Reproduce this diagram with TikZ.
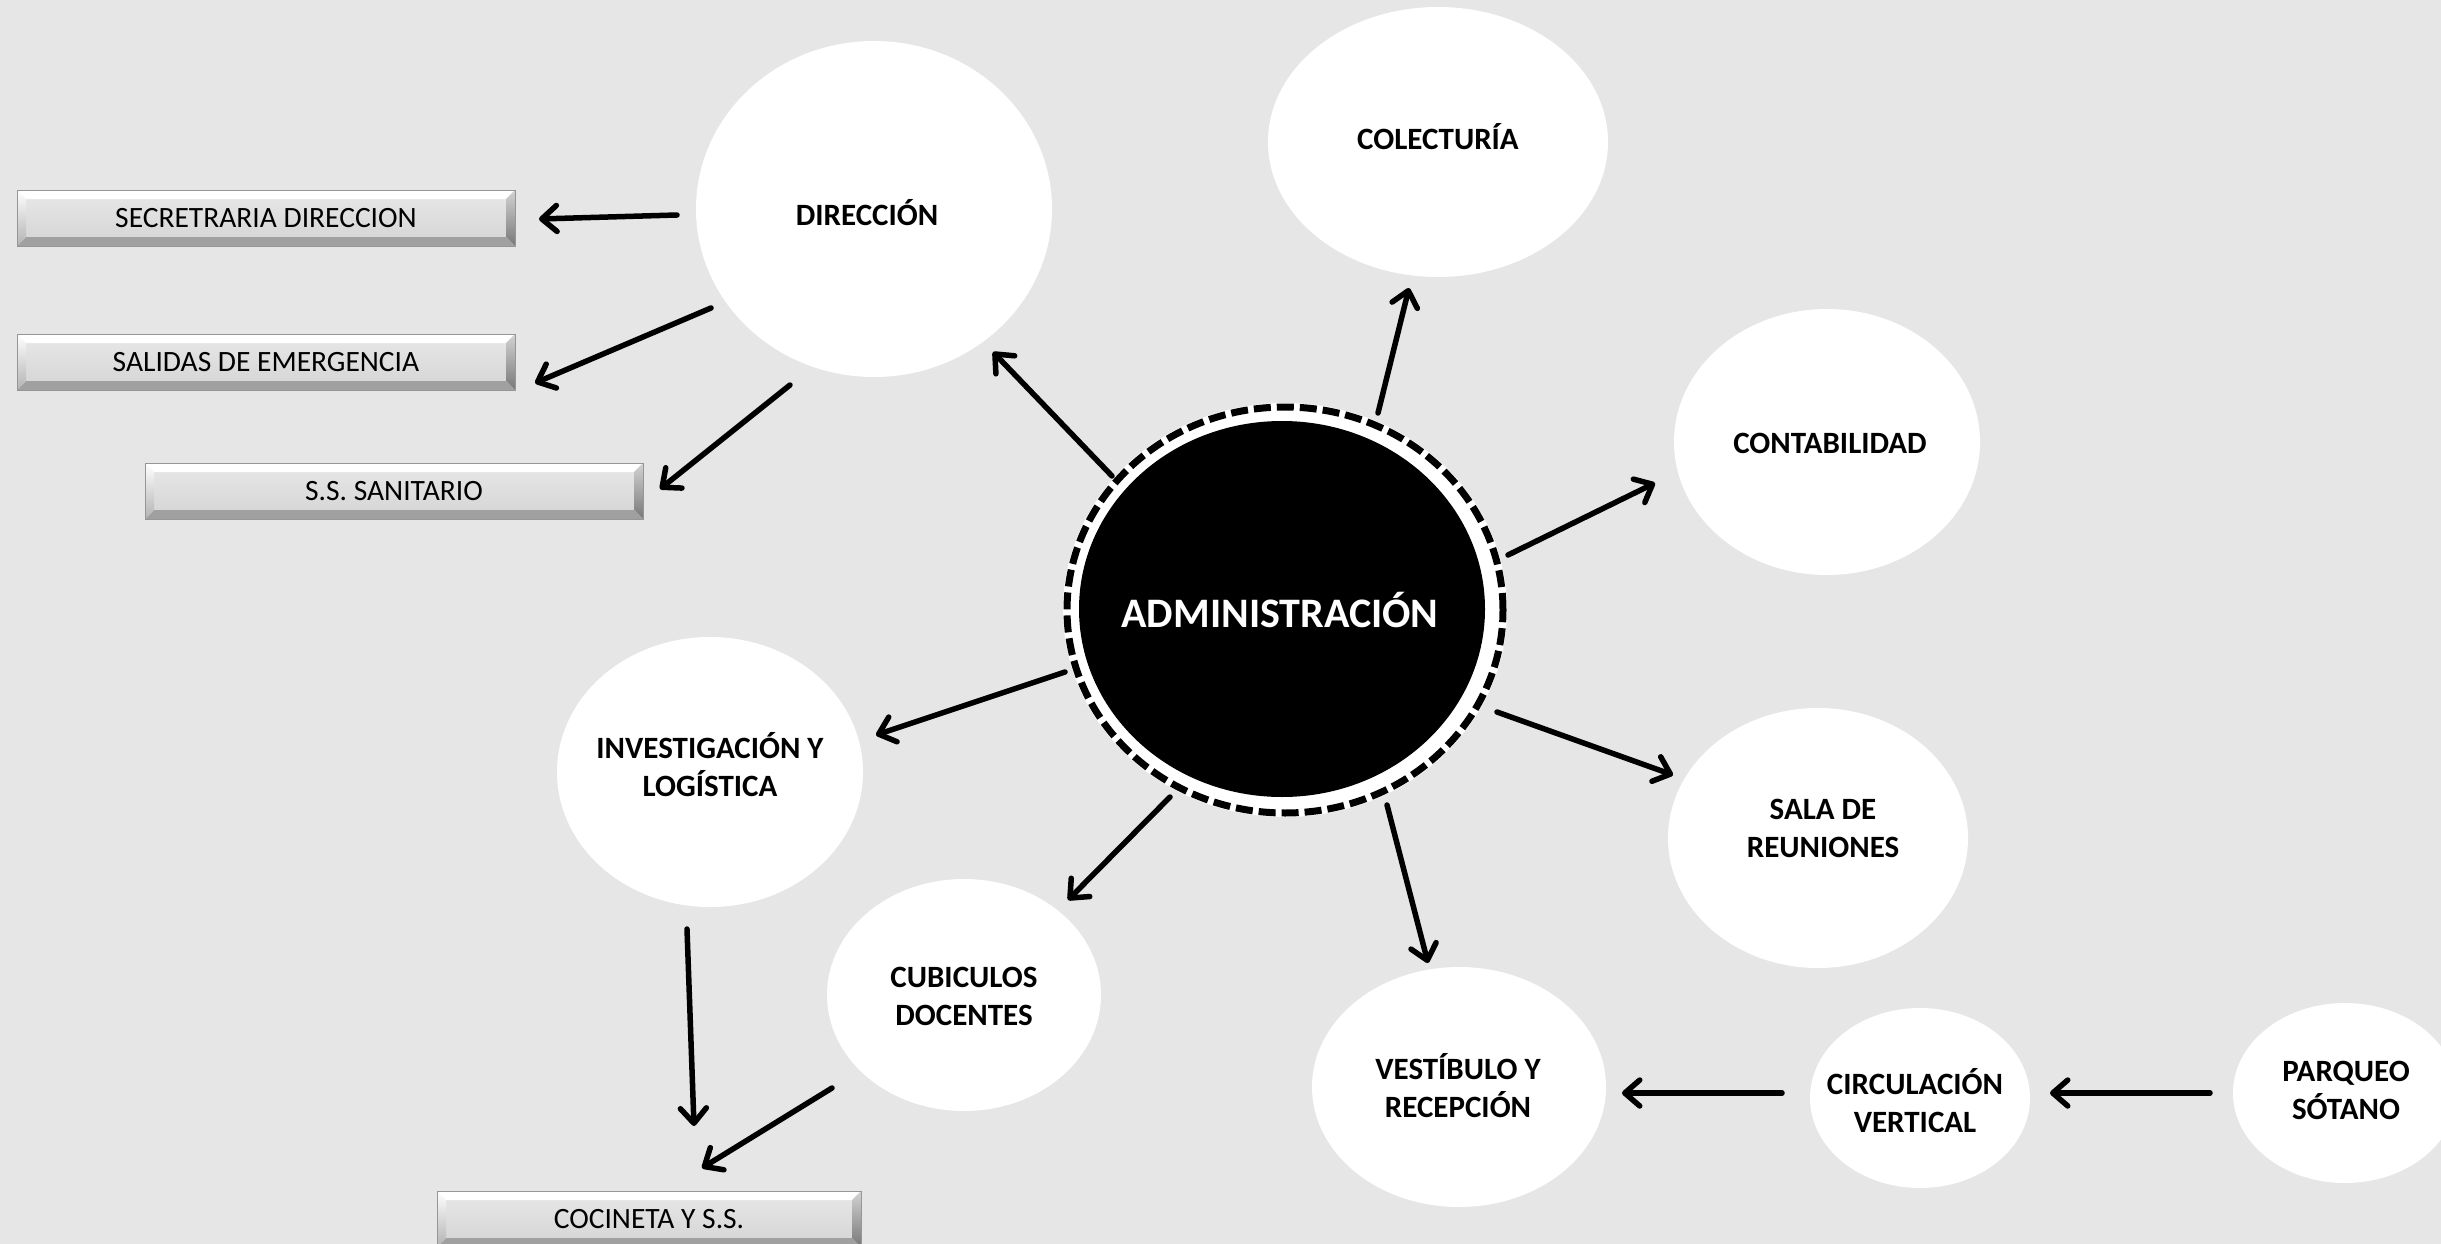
\documentclass[tikz,border=0pt]{standalone}
\usepackage{fontspec}
\setmainfont{Carlito}
\usetikzlibrary{arrows.meta,shapes.geometric,calc}
\definecolor{bg}{RGB}{230,230,230}
\definecolor{boxedge}{RGB}{150,150,150}
\definecolor{boxtop}{RGB}{232,232,232}
\definecolor{boxbot}{RGB}{212,212,212}
\definecolor{bvright}{RGB}{120,120,120}
\definecolor{bvbottom}{RGB}{160,160,160}
\begin{document}
\begin{tikzpicture}[x=1pt,y=-1pt,
  bub/.style={ellipse, fill=white, inner sep=0pt},
  btxt/.style={font=\bfseries\fontsize{31}{38}\selectfont, align=center, inner sep=0pt},
  conn/.style={line width=5.5pt, line cap=round, -{Straight Barb[length=15pt,width=26pt,round]}},
  bevelbox/.style={rectangle, inner sep=0pt, minimum height=56pt, top color=boxtop, bottom color=boxbot,
    draw=boxedge, line width=1pt, font=\fontsize{29.5}{33}\selectfont,
    path picture={
      \path (path picture bounding box.north west) coordinate (bNW)
            (path picture bounding box.north east) coordinate (bNE)
            (path picture bounding box.south east) coordinate (bSE)
            (path picture bounding box.south west) coordinate (bSW);
      \fill[white] (bNW) -- (bNE) -- ([shift={(-9pt,-9pt)}]bNE) -- ([shift={(9pt,-9pt)}]bNW) -- cycle;
      \shade[top color=gray!35, bottom color=bvright] (bNE) -- (bSE) -- ([shift={(-9pt,9pt)}]bSE) -- ([shift={(-9pt,-9pt)}]bNE) -- cycle;
      \fill[bvbottom] (bSE) -- (bSW) -- ([shift={(9pt,9pt)}]bSW) -- ([shift={(-9pt,9pt)}]bSE) -- cycle;
      \shade[top color=white, bottom color=gray!60] (bSW) -- (bNW) -- ([shift={(9pt,-9pt)}]bNW) -- ([shift={(9pt,9pt)}]bSW) -- cycle;
    }}
]
\useasboundingbox (0,0) rectangle (2441,1244);
\fill[bg] (0,0) rectangle (2441,1244);

% central node
\fill[white] (1285,610) ellipse [x radius=222pt, y radius=207pt];
\draw[line width=7pt, dash pattern=on 17pt off 6pt] (1285,610) ellipse [x radius=218pt, y radius=203pt];
\node[ellipse, fill=black, minimum width=406pt, minimum height=376pt, inner sep=0pt] (adminE) at (1282,609) {};
\node[font=\bfseries\fontsize{42}{50}\selectfont, text=white, inner sep=0pt] (admin) at (1280,610) {ADMINISTRACIÓN};

% bubbles
\node[bub, minimum width=356pt, minimum height=336pt] (dirE) at (874,209) {};
\node[btxt] (dir) at (867,213) {DIRECCIÓN};
\node[bub, minimum width=340pt, minimum height=270pt] (colE) at (1438,142) {};
\node[btxt] (col) at (1438,137) {COLECTURÍA};
\node[bub, minimum width=306pt, minimum height=266pt] (contE) at (1827,442) {};
\node[btxt] (cont) at (1830,443) {CONTABILIDAD};
\node[bub, minimum width=300pt, minimum height=260pt] (salaE) at (1818,838) {};
\node[btxt] (sala) at (1823,828) {SALA DE\\REUNIONES};
\node[bub, minimum width=294pt, minimum height=240pt] (vestE) at (1459,1087) {};
\node[btxt] (vest) at (1458,1086) {VESTÍBULO Y\\RECEPCIÓN};
\node[bub, minimum width=220pt, minimum height=180pt] (circE) at (1920,1098) {};
\node[btxt] (circ) at (1915,1101) {CIRCULACIÓN\\VERTICAL};
\node[bub, minimum width=224pt, minimum height=180pt] (parqE) at (2345,1093) {};
\node[btxt] (parq) at (2346,1090) {PARQUEO\\SÓTANO};
\node[bub, minimum width=274pt, minimum height=232pt] (cubE) at (964,995) {};
\node[btxt] (cub) at (964,996) {CUBICULOS\\DOCENTES};
\node[bub, minimum width=306pt, minimum height=270pt] (invE) at (710,772) {};
\node[btxt] (inv) at (710,765) {INVESTIGACIÓN Y\\LOGÍSTICA};

% boxes
\node[bevelbox, minimum width=498pt] (sec) at (266,218) {SECRETRARIA DIRECCION};
\node[bevelbox, minimum width=498pt] (sal) at (266,362) {SALIDAS DE EMERGENCIA};
\node[bevelbox, minimum width=498pt] (ss) at (394,491) {S.S. SANITARIO};
\node[bevelbox, minimum width=424pt] (coc) at (649,1219) {COCINETA Y S.S.};

% connector ends
\coordinate (adm-dir) at (1112,476);   \coordinate (dir-in) at (993,352);
\coordinate (adm-col) at (1378,413);   \coordinate (col-in) at (1409,288);
\coordinate (adm-cont) at (1508,555);  \coordinate (cont-in) at (1655,483);
\coordinate (adm-sala) at (1497,712);  \coordinate (sala-in) at (1673,775);
\coordinate (adm-vest) at (1387,805);  \coordinate (vest-in) at (1428,963);
\coordinate (adm-cub) at (1170,797);   \coordinate (cub-in) at (1068,900);
\coordinate (adm-inv) at (1065,672);   \coordinate (inv-in) at (876,735);
\coordinate (dir-sec) at (677,215);    \coordinate (sec-in) at (539,219);
\coordinate (dir-sal) at (711,308);    \coordinate (sal-in) at (535,383);
\coordinate (dir-ss) at (790,385);     \coordinate (ss-in) at (660,489);
\coordinate (inv-coc) at (687,929);    \coordinate (coc-in1) at (694,1126);
\coordinate (cub-coc) at (832,1088);   \coordinate (coc-in2) at (702,1168);
\coordinate (circ-vest) at (1782,1093); \coordinate (vest-in2) at (1622,1093);
\coordinate (parq-circ) at (2210,1093); \coordinate (circ-in) at (2050,1093);

\draw[conn] (adm-dir) -- (dir-in);
\draw[conn] (adm-col) -- (col-in);
\draw[conn] (adm-cont) -- (cont-in);
\draw[conn] (adm-sala) -- (sala-in);
\draw[conn] (adm-vest) -- (vest-in);
\draw[conn] (adm-cub) -- (cub-in);
\draw[conn] (adm-inv) -- (inv-in);
\draw[conn] (dir-sec) -- (sec-in);
\draw[conn] (dir-sal) -- (sal-in);
\draw[conn] (dir-ss) -- (ss-in);
\draw[conn] (inv-coc) -- (coc-in1);
\draw[conn] (cub-coc) -- (coc-in2);
\draw[conn] (circ-vest) -- (vest-in2);
\draw[conn] (parq-circ) -- (circ-in);
\end{tikzpicture}
\end{document}
